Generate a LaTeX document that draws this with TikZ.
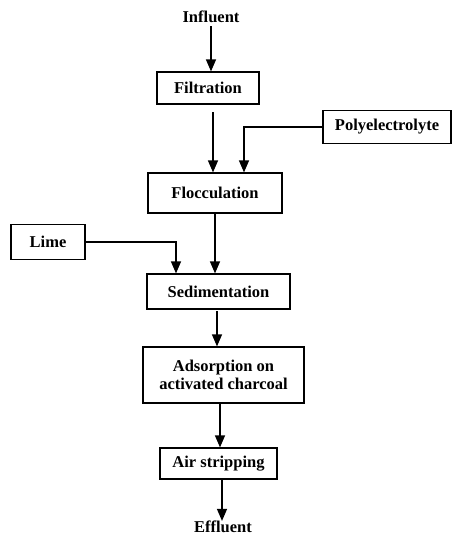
\documentclass[tikz,border=0pt]{standalone}
\usepackage{fontspec}
\setmainfont{Liberation Serif}
\usetikzlibrary{arrows.meta}
\begin{document}
\begin{tikzpicture}[x=1pt,y=-1pt,
  box/.style={draw,line width=1.2pt,inner sep=0pt,font=\fontsize{16.5}{18}\selectfont\bfseries,align=center},
  lbl/.style={inner sep=0pt,font=\fontsize{16.5}{18}\selectfont\bfseries},
  flow/.style={line width=1.3pt,-{Triangle[length=12pt,width=10pt]}}]
\useasboundingbox (0,0) rectangle (453,536);
\node[lbl] (inf) at (211,17) {Influent};
\node[box,minimum width=102pt,minimum height=32pt] (filt) at (208,88) {Filtration};
\node[box,minimum width=128pt,minimum height=33pt] (poly) at (387,127) {Polyelectrolyte};
\node[box,minimum width=134pt,minimum height=40pt] (floc) at (215,193) {Flocculation};
\node[box,minimum width=74pt,minimum height=35pt] (lime) at (48,242) {Lime};
\node[box,minimum width=143pt,minimum height=35pt] (sed) at (218.5,291.5) {Sedimentation};
\node[box,minimum width=161pt,minimum height=56pt] (ads) at (223.5,375) {Adsorption on\\activated charcoal};
\node[box,minimum width=117pt,minimum height=31pt] (air) at (218.5,463.5) {Air stripping};
\node[lbl] (eff) at (223,527) {Effluent};
\coordinate (pc) at (244,127);
\coordinate (lc) at (176,242);
\draw[flow] (211,26) -- (filt.north -| 211,0);
\draw[flow] (213,112) -- (floc.north -| 213,0);
\draw[flow] (poly.west) -- (pc) -- (pc |- floc.north);
\draw[flow] (lime.east) -- (lc) -- (lc |- sed.north);
\draw[flow] (215,213) -- (sed.north -| 215,0);
\draw[flow] (217,311) -- (ads.north -| 217,0);
\draw[flow] (220,403) -- (air.north -| 220,0);
\draw[flow] (222,479) -- (eff.north -| 222,0);
\end{tikzpicture}
\end{document}
